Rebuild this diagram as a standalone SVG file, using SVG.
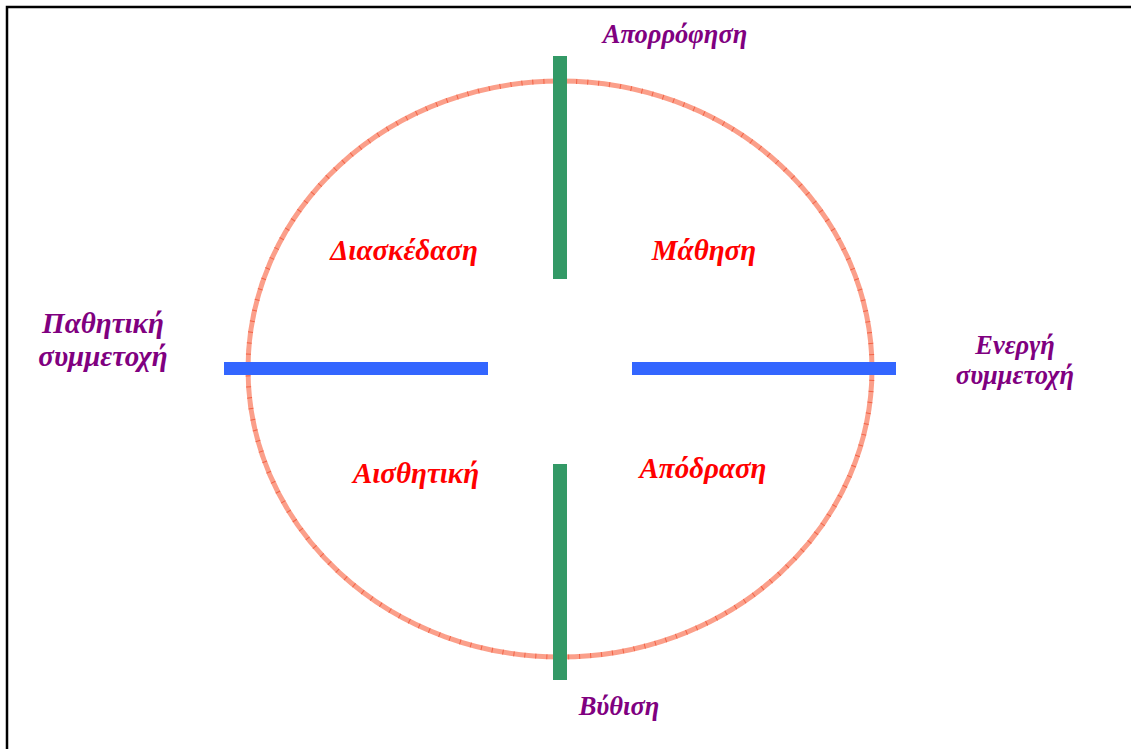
<svg xmlns="http://www.w3.org/2000/svg" width="1131" height="749" viewBox="0 0 1131 749">
<style>
.lbl{font-family:"Liberation Serif","Times New Roman",serif;font-style:italic;font-weight:bold;fill:#800080;text-anchor:middle}
.q{font-family:"Liberation Serif","Times New Roman",serif;font-style:italic;font-weight:bold;fill:#ff0000;text-anchor:middle;font-size:29px}
.g{fill:#339966}
.b{fill:#3366ff}
</style>
<rect x="0" y="0" width="1131" height="749" fill="#ffffff"/>
<rect x="7" y="7" width="1140" height="760" fill="none" stroke="#000000" stroke-width="2.5"/>
<g id="circle">
<ellipse cx="560" cy="369" rx="312" ry="288" fill="none" stroke="#fb9f8a" stroke-width="5"/>
<ellipse cx="560" cy="369" rx="312" ry="288" fill="none" stroke="#f04a2a" stroke-width="5" stroke-dasharray="1 10" stroke-opacity="0.7"/>
</g>
<g id="connectors">
<rect class="g" x="553" y="56" width="14" height="223"/>
<rect class="g" x="553" y="464" width="14" height="216"/>
<rect class="b" x="224" y="362" width="264" height="13"/>
<rect class="b" x="632" y="362" width="264" height="13"/>
</g>
<g id="absorption"><text class="lbl" x="675" y="43" font-size="26.5">Απορρόφηση</text></g>
<g id="immersion"><text class="lbl" x="619" y="715" font-size="26.5">Βύθιση</text></g>
<g id="passive"><text class="lbl" x="103" y="333" font-size="29">Παθητική</text><text class="lbl" x="103" y="366" font-size="29">συμμετοχή</text></g>
<g id="active"><text class="lbl" x="1015" y="354" font-size="26.5">Ενεργή</text><text class="lbl" x="1015" y="384" font-size="26.5">συμμετοχή</text></g>
<g id="entertainment"><text class="q" x="404" y="260">Διασκέδαση</text></g>
<g id="learning"><text class="q" x="704" y="260">Μάθηση</text></g>
<g id="aesthetic"><text class="q" x="416" y="483">Αισθητική</text></g>
<g id="escape"><text class="q" x="703" y="478">Απόδραση</text></g>
</svg>
